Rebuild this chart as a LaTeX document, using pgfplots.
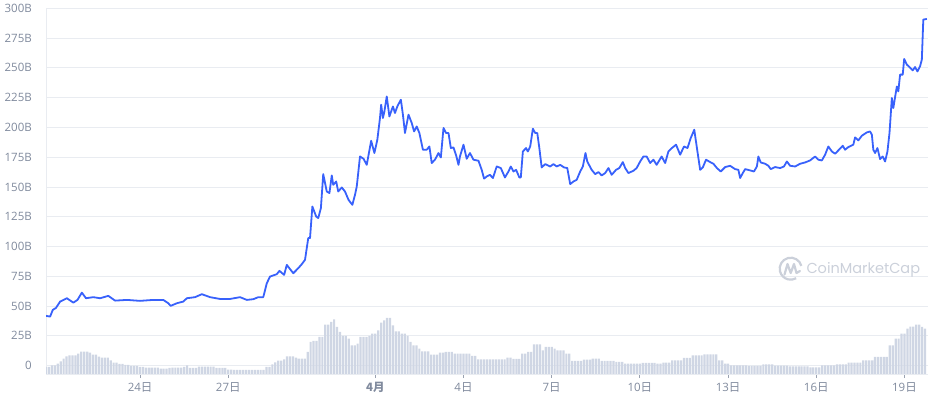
\documentclass[border=0pt]{standalone}
\usepackage{fontspec}
\setmainfont{Open Sans}
\newfontfamily\cjk{Noto Sans CJK SC}
\newfontfamily\wmfont{Poppins}
\usepackage{pgfplots}
\pgfplotsset{compat=1.18}
\definecolor{cmcblue}{HTML}{3861FB}
\definecolor{volbar}{HTML}{CFD6E4}
\definecolor{gridc}{HTML}{E9ECF1}
\definecolor{labc}{HTML}{808A9D}
\definecolor{tickc}{HTML}{9AA2B1}
\definecolor{wm}{HTML}{CBD0DA}
\pgfplotsset{base/.style={scale only axis, width=882bp, height=365.7bp,
  xmin=-3.2, xmax=26.8, at={(46bp,26bp)}, anchor=south west}}
\begin{document}
\begin{tikzpicture}
\useasboundingbox (0,0) rectangle (928bp,400bp);
% main frame: grid, ticks, labels
\begin{axis}[base,
  ymin=-7, ymax=300,
  ytick={0,25,50,75,100,125,150,175,200,225,250,275,300},
  yticklabels={0,25B,50B,75B,100B,125B,150B,175B,200B,225B,250B,275B,300B},
  xtick={0,3,8,11,14,17,20,23,26},
  xticklabels={24{\cjk 日},27{\cjk 日},{\cjk\bfseries 4月},4{\cjk 日},7{\cjk 日},10{\cjk 日},13{\cjk 日},16{\cjk 日},19{\cjk 日}},
  ymajorgrids, grid style={draw=gridc, line width=0.8bp},
  axis x line*=bottom, axis y line*=left,
  axis line style={-, draw=gridc, line width=0.8bp},
  tick align=outside, major tick length=4bp,
  xtick style={draw=tickc, line width=0.8bp},
  ytick style={draw=none},
  ticklabel style={font=\fontsize{11.5bp}{13bp}\selectfont, text=labc},
  yticklabel style={anchor=east, inner sep=0pt, xshift=-10bp},
  xticklabel style={anchor=north, inner sep=0pt, yshift=-4bp},
]
\addplot[draw=none, forget plot] coordinates {(0,0)};
\end{axis}
% volume bars
\begin{axis}[base, ymin=0, ymax=365.7, hide axis]
\addplot[ybar, bar width=0.075, fill=volbar, draw=none] coordinates {
(-3.2,7) (-3.1,7) (-3.0,8.7) (-2.9,8.7) (-2.8,10.3) (-2.7,12.7) (-2.6,15.3) (-2.5,17.7)
(-2.4,18.7) (-2.3,18.7) (-2.2,18.7) (-2.1,20.3) (-2.0,22.3) (-1.9,22.3) (-1.8,22.3) (-1.7,21.3)
(-1.6,19.3) (-1.5,19.3) (-1.4,17.3) (-1.3,16.3) (-1.2,16.3) (-1.1,16.3) (-1.0,13.7) (-0.9,11.3)
(-0.8,11.3) (-0.7,10) (-0.6,10) (-0.5,9) (-0.4,9) (-0.3,8) (-0.2,8) (-0.1,8)
(0.0,7) (0.1,7) (0.2,6.3) (0.3,6.3) (0.4,6.3) (0.5,6.3) (0.6,6.3) (0.7,5.3) (0.8,5.3) (0.9,5.3)
(1.0,6) (1.1,6.3) (1.2,6.3) (1.3,6.3) (1.4,6.3) (1.5,7) (1.6,8.7) (1.7,6) (1.8,6) (1.9,6)
(2.0,7.3) (2.1,7.3) (2.2,7.3) (2.3,7.3) (2.4,7.3) (2.5,7.3) (2.6,6) (2.7,6) (2.8,6) (2.9,6)
(3.0,4.3) (3.1,4.3) (3.2,4) (3.3,4) (3.4,4) (3.5,4) (3.6,4) (3.7,4) (3.8,4) (3.9,4) (4.0,4) (4.1,4) (4.2,4)
(4.3,7) (4.4,7) (4.5,9.7) (4.6,11.7) (4.7,13.3) (4.8,13.3) (4.9,14.7) (5.0,17.7) (5.1,17.7) (5.2,17.7)
(5.3,16.3) (5.4,15.3) (5.5,15.3) (5.6,15.3) (5.7,22) (5.8,32) (5.9,33) (6.0,33) (6.1,37) (6.2,37)
(6.3,49.3) (6.4,49.3) (6.5,52) (6.6,54.7) (6.7,47) (6.8,42) (6.9,38) (7.0,38) (7.1,35.3) (7.2,28.7)
(7.3,28.7) (7.4,30.3) (7.5,37) (7.6,37) (7.7,37) (7.8,38) (7.9,40.3) (8.0,40.3) (8.1,43.7) (8.2,51.3)
(8.3,53.7) (8.4,56) (8.5,56) (8.6,48.7) (8.7,42.7) (8.8,42.7) (8.9,40.3) (9.0,40.3) (9.1,38) (9.2,32)
(9.3,28.7) (9.4,28.7) (9.5,25.3) (9.6,22.7) (9.7,22.7) (9.8,22.7) (9.9,19.3) (10.0,19.3) (10.1,19.3)
(10.2,21.3) (10.3,21.3) (10.4,22) (10.5,22) (10.6,22) (10.7,20.3) (10.8,20.3) (10.9,20.3) (11.0,20.3)
(11.1,20.3) (11.2,20.3) (11.3,18) (11.4,18) (11.5,14.7) (11.6,14.7) (11.7,14.7) (11.8,14.7) (11.9,14.7)
(12.0,14.7) (12.1,14.7) (12.2,14.7) (12.3,14.7) (12.4,14.7) (12.5,16.3) (12.6,16.3) (12.7,15) (12.8,15)
(12.9,15) (13.0,20.3) (13.1,20.3) (13.2,22) (13.3,22) (13.4,29.7) (13.5,29.7) (13.6,29.7) (13.7,23.7)
(13.8,27) (13.9,27) (14.0,27) (14.1,25.3) (14.2,23.7) (14.3,23.7) (14.4,23.7) (14.5,20.3) (14.6,20.3)
(14.7,13) (14.8,13) (14.9,13) (15.0,13) (15.1,14.3) (15.2,14.3) (15.3,14.3) (15.4,15.3) (15.5,15.3)
(15.6,15.3) (15.7,13) (15.8,13) (15.9,13) (16.0,13) (16.1,13) (16.2,12) (16.3,12) (16.4,12)
(16.5,10.3) (16.6,10.3) (16.7,10.3) (16.8,10.3) (16.9,10.3) (17.0,10.3) (17.1,11) (17.2,11) (17.3,11)
(17.4,11) (17.5,11) (17.6,10.3) (17.7,10.3) (17.8,11.3) (17.9,11.3) (18.0,11.3) (18.1,13.7) (18.2,13.7)
(18.3,13.7) (18.4,13.7) (18.5,16) (18.6,16) (18.7,16) (18.8,18.7) (18.9,18.7) (19.0,18.7) (19.1,18.7)
(19.2,19.7) (19.3,19.7) (19.4,19.7) (19.5,19.7) (19.6,19.7) (19.7,13.7) (19.8,13.7) (19.9,10.3) (20.0,10.3)
(20.1,8.7) (20.2,8.7) (20.3,8.7) (20.4,8.7) (20.5,8.7) (20.6,8.7) (20.7,8) (20.8,8) (20.9,8) (21.0,8) (21.1,8)
(21.2,9.7) (21.3,9.7) (21.4,9.7) (21.5,9.7) (21.6,8.3) (21.7,8.3) (21.8,8.3) (21.9,8.3) (22.0,8.3)
(22.1,7.7) (22.2,7.7) (22.3,7.7) (22.4,7.7) (22.5,7.7) (22.6,7.7) (22.7,7.7) (22.8,6.7) (22.9,6.7) (23.0,6.7) (23.1,6.7)
(23.2,8.7) (23.3,8.7) (23.4,8.7) (23.5,8.7) (23.6,8.7) (23.7,9.7) (23.8,9.7) (23.9,9.7) (24.0,9.7)
(24.1,11.3) (24.2,11.3) (24.3,11.3) (24.4,11.3) (24.5,11.3) (24.6,13.7) (24.7,13.7) (24.8,13.7) (24.9,13.7)
(25.0,17) (25.1,17) (25.2,17) (25.3,17) (25.4,17) (25.5,28.7) (25.6,28.7) (25.7,35.3) (25.8,35.3)
(25.9,40.3) (26.0,40.3) (26.1,45.3) (26.2,47.3) (26.3,47.3) (26.4,49.3) (26.5,49.3) (26.6,47) (26.7,45.3)
};
\end{axis}
% price line
\begin{axis}[base, ymin=-7, ymax=300, hide axis]
\addplot[cmcblue, line width=1.8bp, line join=round, no markers] coordinates {
(-3.20,41.8) (-3.06,41.2) (-2.97,46.8) (-2.86,48.5) (-2.72,53.8) (-2.49,56.6) (-2.27,52.9) (-2.13,55.2)
(-1.98,61.3) (-1.84,56.6) (-1.59,57.5) (-1.36,56.6) (-1.08,58.6) (-0.85,54.6) (-0.45,55.2) (0,54.4)
(0.45,55.2) (0.79,55.2) (0.96,52.4) (1.04,50.2) (1.25,52.4) (1.47,53.8) (1.59,56.6) (1.87,57.5)
(2.10,60.0) (2.38,57.5) (2.72,56.0) (3.06,56.0) (3.40,57.5) (3.63,55.2) (3.85,55.8) (4.02,57.5)
(4.19,57.5) (4.31,69.2) (4.42,74.8) (4.65,76.8) (4.74,79.6) (4.90,76.2) (4.99,84.6) (5.21,77.6)
(5.38,81.8) (5.50,85.2) (5.61,88.8) (5.72,107.1) (5.78,107.1) (5.86,133.6) (5.99,125.2) (6.06,123.9)
(6.15,132.3) (6.23,160.8) (6.35,146.2) (6.44,144.9) (6.52,159.7) (6.57,151.8) (6.67,154.6) (6.74,146.2)
(6.86,149.6) (6.97,146.2) (7.09,139.2) (7.22,135.0) (7.31,143.4) (7.37,150.4) (7.48,175.6) (7.60,173.7)
(7.71,168.6) (7.86,188.8) (7.97,178.5) (8.07,189.7) (8.16,207.9) (8.20,219.1) (8.26,207.9) (8.31,213.4)
(8.39,226.0) (8.48,209.2) (8.60,217.6) (8.67,212.1) (8.75,217.6) (8.87,223.3) (8.94,210.7) (9.01,195.3)
(9.13,210.7) (9.24,203.7) (9.32,196.6) (9.41,200.8) (9.50,195.3) (9.62,181.3) (9.75,181.3) (9.84,184.0)
(9.92,170.1) (10.03,172.9) (10.15,178.5) (10.23,174.8) (10.32,199.5) (10.41,195.3) (10.49,195.3) (10.57,182.7)
(10.66,183.2) (10.75,176.5) (10.83,168.6) (10.88,175.6) (11.00,185.5) (11.11,173.7) (11.22,178.5) (11.34,172.9)
(11.51,172.0) (11.62,164.4) (11.70,157.0) (11.79,158.8) (11.90,160.2) (12.00,157.5) (12.13,167.2) (12.27,165.9)
(12.41,158.0) (12.53,163.0) (12.61,167.2) (12.70,163.0) (12.79,164.4) (12.90,158.0) (12.95,158.0) (13.02,179.8)
(13.13,182.7) (13.19,179.8) (13.27,184.0) (13.36,198.9) (13.44,195.3) (13.51,195.3) (13.58,182.7) (13.66,166.4)
(13.78,169.2) (13.95,167.2) (14.06,169.2) (14.17,167.2) (14.29,168.6) (14.42,166.4) (14.53,165.9) (14.63,152.4)
(14.74,154.6) (14.85,156.0) (14.97,163.0) (15.06,167.2) (15.15,178.5) (15.21,171.4) (15.36,164.4) (15.48,160.8)
(15.59,162.5) (15.70,159.7) (15.82,161.7) (15.93,165.9) (16.04,160.2) (16.19,164.4) (16.30,165.9) (16.42,170.9)
(16.50,165.9) (16.61,161.7) (16.78,163.6) (16.89,165.9) (17.01,171.4) (17.12,175.6) (17.23,175.6) (17.35,170.1)
(17.46,172.9) (17.57,168.6) (17.74,175.6) (17.86,170.1) (17.97,179.8) (18.09,182.7) (18.23,185.5) (18.37,177.1)
(18.50,184.0) (18.62,182.7) (18.73,191.1) (18.85,198.1) (18.94,182.7) (19.05,164.4) (19.14,166.4) (19.25,172.9)
(19.39,170.9) (19.50,169.5) (19.62,165.9) (19.75,163.0) (19.90,166.7) (20.07,167.8) (20.24,165.0) (20.35,164.4)
(20.41,157.5) (20.50,161.7) (20.58,165.0) (20.75,163.9) (20.88,163.0) (20.98,167.2) (21.03,175.6) (21.11,170.6)
(21.26,169.5) (21.37,167.8) (21.45,165.0) (21.60,166.7) (21.77,165.9) (21.90,167.2) (22.00,171.4) (22.11,167.8)
(22.28,167.2) (22.45,169.5) (22.62,170.6) (22.79,172.3) (22.96,175.6) (23.07,172.9) (23.19,172.3) (23.30,177.1)
(23.41,184.0) (23.53,179.8) (23.64,177.9) (23.75,180.7) (23.90,184.6) (23.98,181.3) (24.09,183.5) (24.26,185.5)
(24.32,191.6) (24.43,189.1) (24.55,193.0) (24.72,195.8) (24.83,196.6) (24.89,193.9) (24.94,181.3) (25.00,178.5)
(25.08,182.7) (25.17,173.4) (25.26,175.6) (25.34,171.4) (25.42,179.8) (25.49,195.3) (25.57,224.7) (25.62,216.3)
(25.74,234.4) (25.79,230.2) (25.85,244.3) (25.94,244.3) (25.99,257.5) (26.08,252.7) (26.17,250.7) (26.28,247.9)
(26.36,250.7) (26.44,247.0) (26.53,251.3) (26.59,256.9) (26.64,290.5) (26.76,291.1)
};
\end{axis}
% watermark
\draw[wm, line width=2.2bp] (790.7bp,131.3bp) ++(15:11bp) arc (15:300:11bp);
\draw[wm, line width=2.2bp, line join=round, line cap=round]
  (784.5bp,125.5bp) -- (787.5bp,136bp) -- (790.7bp,127bp) -- (794bp,136bp) -- (796.5bp,127bp) -- (800bp,129bp);
\node[text=wm, font=\wmfont\fontsize{14.5bp}{16bp}\selectfont, inner sep=0pt] at (863.3bp,130.3bp) {CoinMarketCap};
\end{tikzpicture}
\end{document}
